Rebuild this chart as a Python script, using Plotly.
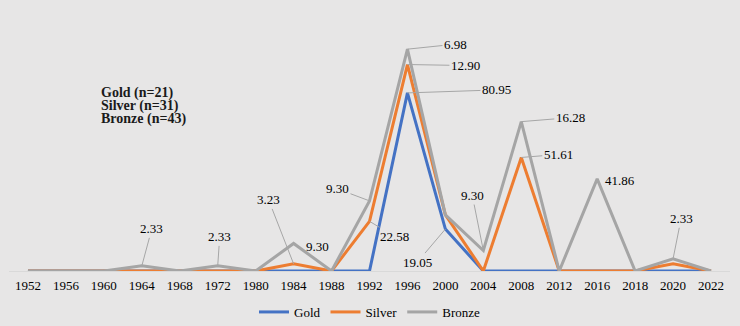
import plotly.graph_objects as go

# Games (category axis, evenly spaced)
years = ["1952", "1956", "1960", "1964", "1968", "1972", "1980", "1984", "1988", "1992",
         "1996", "2000", "2004", "2008", "2012", "2016", "2018", "2020", "2022"]

# Share of each medal type won at every Games (%)
gold = [0, 0, 0, 0, 0, 0, 0, 0, 0, 0, 80.95, 19.05, 0, 0, 0, 0, 0, 0, 0]
silver = [0, 0, 0, 0, 0, 0, 0, 3.23, 0, 22.58, 12.90, 6.45, 0, 51.61, 0, 0, 0, 3.23, 0]
bronze = [0, 0, 0, 2.33, 0, 2.33, 0, 9.30, 0, 9.30, 6.98, 0, 9.30, 16.28, 0, 41.86, 0, 2.33, 0]

series_names = ["Gold", "Silver", "Bronze"]
counts = ["Gold (n=21)", "Silver (n=31)", "Bronze (n=43)"]
colors = ["#4472C4", "#ED7D31", "#A5A5A5"]

FONT = "Liberation Serif"
BG = "#E7E6E6"

fig = go.Figure()
for name, vals, col in zip(series_names, [gold, silver, bronze], colors):
    fig.add_trace(go.Scatter(
        x=years, y=vals, name=name, mode="lines", stackgroup="medals", fill="none",
        line=dict(color=col, width=3), hoverinfo="skip",
    ))

# cumulative heights so each label sits on its own stacked line
stacked = {
    "Gold": gold,
    "Silver": [g + s for g, s in zip(gold, silver)],
    "Bronze": [g + s + b for g, s, b in zip(gold, silver, bronze)],
}
values = {"Gold": gold, "Silver": silver, "Bronze": bronze}

# (series, year, ax, ay) for callouts with a leader line
callouts = [
    ("Bronze", "1964", 10, -37),
    ("Bronze", "1972", 2, -29),
    ("Silver", "1984", -25, -64),
    ("Bronze", "1992", -32, -12),
    ("Silver", "1992", 25, 15),
    ("Bronze", "1996", 48, -5),
    ("Silver", "1996", 58, 1),
    ("Gold", "1996", 89, -3),
    ("Gold", "2000", -28, 33),
    ("Bronze", "2004", -11, -55),
    ("Bronze", "2008", 49, -4),
    ("Silver", "2008", 37, -3),
    ("Bronze", "2020", 8, -40),
]
# (series, year, xshift, yshift) for labels placed beside the point
plain = [
    ("Bronze", "1984", 24, -3),
    ("Bronze", "2016", 23, -2),
]

anns = []
for s, yr, ax, ay in callouts:
    i = years.index(yr)
    anns.append(dict(
        x=i, y=stacked[s][i], xref="x", yref="y", text=f"{values[s][i]:.2f}",
        showarrow=True, arrowhead=0, arrowwidth=1, arrowcolor="#A6A6A6",
        ax=ax, ay=ay, standoff=0, startstandoff=0,
        font=dict(family=FONT, size=13, color="#000000"),
    ))
for s, yr, dx, dy in plain:
    i = years.index(yr)
    anns.append(dict(
        x=i, y=stacked[s][i], xref="x", yref="y", text=f"{values[s][i]:.2f}",
        showarrow=False, xshift=dx, yshift=dy,
        font=dict(family=FONT, size=13, color="#000000"),
    ))

# medal counts block
for k, t in enumerate(counts):
    anns.append(dict(
        x=0.125, y=0.736 - k * 0.0545, xref="paper", yref="paper",
        text=f"<b>{t}</b>", showarrow=False, xanchor="left", yanchor="middle",
        font=dict(family=FONT, size=14, color="#1a1a1a"),
    ))

fig.update_layout(
    width=740, height=326,
    margin=dict(l=9, r=10, t=29, b=55, autoexpand=False),
    paper_bgcolor=BG, plot_bgcolor=BG,
    font=dict(family=FONT, size=13, color="#000000"),
    showlegend=True,
    legend=dict(orientation="h", x=0.5, xanchor="center", xref="paper",
                y=0.043, yanchor="middle", yref="container",
                font=dict(family=FONT, size=13, color="#000000"),
                bgcolor="rgba(0,0,0,0)", itemwidth=30, traceorder="normal"),
    xaxis=dict(type="category", range=[-0.5, 18.5], showgrid=False, zeroline=False,
               showline=True, linecolor="#D9D9D9", linewidth=1, ticks="",
               ticklabelstandoff=2,
               tickfont=dict(family=FONT, size=13, color="#000000")),
    yaxis=dict(range=[0, 110], visible=False, showgrid=False, zeroline=False),
    annotations=anns,
)

fig.write_html("out.html")
